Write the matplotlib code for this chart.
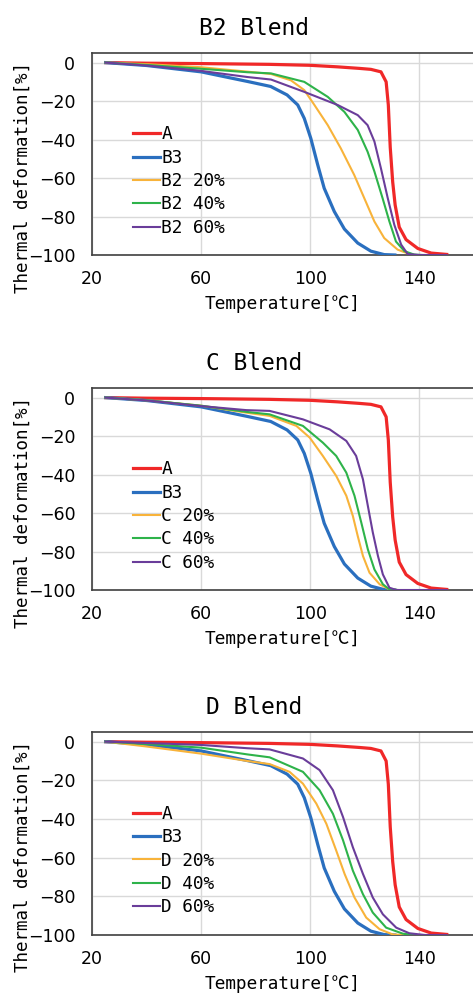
import matplotlib
matplotlib.use('Agg')
import matplotlib.pyplot as plt
from matplotlib import font_manager

# --- fonts ---
names = {f.name for f in font_manager.fontManager.ttflist}
TICK_FONT = ['Liberation Sans Narrow', 'DejaVu Sans'] if 'Liberation Sans Narrow' in names else ['DejaVu Sans']
MONO_FONT = ['DejaVu Sans Mono', 'Noto Sans CJK JP']
plt.rcParams['font.family'] = MONO_FONT
plt.rcParams['axes.unicode_minus'] = True

# --- data ---
# A (same sample in all three panels)
a_t = [25, 40, 60, 85, 100, 110, 118, 122.2, 125.9, 127.8, 128.6, 129.3, 130.2, 131.1,
       132.6, 135.1, 139.4, 144.3, 150]
a_d = [0, -0.3, -0.5, -0.9, -1.4, -2.2, -3, -3.5, -4.8, -10, -22, -44, -62, -74,
       -85.5, -92, -96.6, -99, -99.7]

# B3 (same sample in all three panels)
b3_t = [25, 40, 60, 77, 85.5, 91.5, 95.4, 97.8, 100.2, 102.7, 105.1, 108.8, 112.5,
        117.4, 122.2, 127.1, 131]
b3_d = [0, -1.5, -4.8, -9.8, -12.4, -16.8, -22, -29, -39.4, -53, -65.3, -77.4, -86.5,
        -93.8, -98, -99.8, -100]

# B2 blend
b2_20_t = [25, 40, 60, 77, 85.6, 92.9, 97.8, 101.5, 106.4, 111.2, 116.1, 119.8, 123.5,
           127.1, 132, 136.9, 138.5]
b2_20_d = [0, -0.8, -2.4, -4.7, -5.9, -9.2, -14.3, -22, -32.5, -44.6, -58.4, -70.5, -82.6,
           -91.2, -97.2, -99.8, -100]
b2_40_t = [25, 40, 60, 77, 85.6, 97.8, 106.4, 112.5, 117.4, 121, 123.5, 126.5, 129,
           131.4, 134.5, 138.1, 141]
b2_40_d = [0, -1.2, -3.2, -5, -5.6, -10, -17.8, -25.6, -35, -46.3, -56.6, -70.5, -82.6,
           -93, -98, -99.8, -100]
b2_60_t = [25, 40, 60, 77, 85.6, 97.8, 110, 117.4, 121, 123.5, 125.9, 128.4, 130.8,
           133.3, 135.7, 140, 150]
b2_60_d = [0, -1.5, -4.3, -7.5, -8.8, -15.2, -22, -27.3, -32.5, -41, -55, -70.5, -84.3,
           -94.6, -99.5, -100, -100]

# C blend
c_20_t = [25, 40, 60, 76.5, 85.1, 94.9, 99.8, 104.6, 109.5, 113.2, 115.6, 117.4, 119.3,
          121.7, 125.4, 129, 132]
c_20_d = [0, -1.4, -4.2, -7.8, -9.5, -14.7, -20.8, -30.3, -40.7, -51, -61.5, -72, -82.3,
          -91, -97, -99.7, -100]
c_40_t = [25, 40, 60, 76.5, 85.1, 97.3, 104.6, 109.5, 113.2, 116.2, 118.7, 121.1, 123.5,
          126.6, 129, 132]
c_40_d = [0, -1.4, -4.2, -7.4, -8.7, -14.7, -23.4, -30.3, -39, -51, -65, -78.9, -89.3,
          -97, -99.7, -100]
c_60_t = [25, 40, 60, 76.5, 85.1, 97.3, 107.1, 113.2, 116.8, 119.3, 121.1, 122.9, 124.8,
          126.6, 129, 131.5, 140, 150]
c_60_d = [0, -1.5, -4.4, -6.5, -6.9, -11.3, -16.5, -22.5, -30.3, -42.5, -56.3, -70, -82.3,
          -91.9, -98.8, -100, -100, -100]

# D blend
d_20_t = [25, 40, 60, 77, 85.1, 92.4, 97.3, 102.2, 105.9, 109.5, 112.6, 116.2, 120.5,
          125.4, 130.2, 134]
d_20_d = [0, -2.5, -6.2, -10, -11.6, -15.6, -21.7, -32, -42.5, -56.3, -68.5, -80.6, -91,
          -97, -99.7, -100]
d_40_t = [25, 40, 60, 77, 85.1, 97.3, 103.4, 108.3, 112, 115.6, 119.3, 122.9, 127.8,
          133.9, 138]
d_40_d = [0, -1.2, -3.1, -6.6, -8.1, -15.6, -25.1, -37.3, -51, -66.7, -78.9, -88.4, -96.2,
          -99.3, -100]
d_60_t = [25, 40, 60, 77, 85.1, 97.3, 103.4, 108.3, 112, 115.6, 119.3, 122.9, 126.6,
          131.5, 136.3, 142, 150]
d_60_d = [0, -0.7, -1.7, -3.4, -4, -8.7, -14.7, -25.1, -39, -54.6, -68.4, -80.6, -89.3,
          -96.2, -99.1, -100, -100]

panels = [
    ('B2 Blend', 'B2', [(b2_20_t, b2_20_d), (b2_40_t, b2_40_d), (b2_60_t, b2_60_d)]),
    ('C Blend', 'C', [(c_20_t, c_20_d), (c_40_t, c_40_d), (c_60_t, c_60_d)]),
    ('D Blend', 'D', [(d_20_t, d_20_d), (d_40_t, d_40_d), (d_60_t, d_60_d)]),
]
blend_pcts = ['20%', '40%', '60%']
blend_colors = ['#f8b33a', '#2eb34a', '#6a3d9a']

x_ticks = [20, 60, 100, 140]
y_ticks = [0, -20, -40, -60, -80, -100]

# --- figure ---
fig = plt.figure(figsize=(4.73, 9.98), dpi=100)
W, H = 473, 998
# (top, bottom) pixel rows of each axes box
boxes = [(53, 255), (388, 590), (732, 935)]

for (title, tag, series), (top, bot) in zip(panels, boxes):
    ax = fig.add_axes([92 / W, 1 - bot / H, 382 / W, (bot - top) / H])
    ax.plot(a_t, a_d, color='#f02828', lw=2.3, label='A', zorder=3)
    ax.plot(b3_t, b3_d, color='#2a6fbf', lw=2.3, label='B3', zorder=3)
    for (t, d), pct, col in zip(series, blend_pcts, blend_colors):
        ax.plot(t, d, color=col, lw=1.5, label=f'{tag} {pct}', zorder=3)

    ax.set_xlim(20, 160)
    ax.set_ylim(-100, 5)
    ax.set_xticks(x_ticks)
    ax.set_yticks(y_ticks)
    ax.grid(True, color='#d9d9d9', lw=1.0, zorder=0)
    ax.tick_params(length=0, labelsize=12.5)
    ax.tick_params(axis='y', pad=12)
    ax.tick_params(axis='x', pad=11)
    for lab in ax.get_xticklabels() + ax.get_yticklabels():
        lab.set_family(TICK_FONT)
    for s in ['left', 'bottom', 'top']:
        ax.spines[s].set_color('#404040')
        ax.spines[s].set_linewidth(1.2)
    ax.spines['right'].set_visible(False)

    ax.set_xlabel('Temperature[℃]', fontsize=12.8, labelpad=5)
    ax.set_ylabel('Thermal deformation[%]', fontsize=12.6)
    ax.yaxis.set_label_coords(-0.157, 0.386)
    ax.text(0.424, 1 + 18 / (bot - top), title, transform=ax.transAxes,
            ha='center', va='baseline', fontsize=16.5)

    ax.legend(loc='center left', bbox_to_anchor=(0.107, 0.366), frameon=False,
              fontsize=12.8, handlelength=1.5, handletextpad=0.1,
              labelspacing=0.3, borderpad=0, borderaxespad=0)

fig.savefig('out.png', dpi=100)
